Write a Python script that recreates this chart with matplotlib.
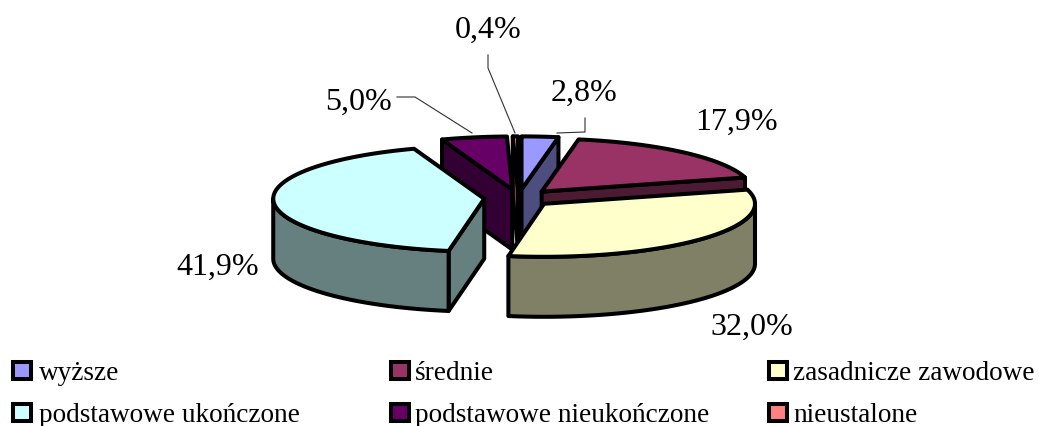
import numpy as np
import matplotlib
matplotlib.use('Agg')
import matplotlib.pyplot as plt
from matplotlib.patches import Polygon, Rectangle

categories = ['wyższe', 'średnie', 'zasadnicze zawodowe', 'podstawowe ukończone',
              'podstawowe nieukończone', 'nieustalone']
values = [2.8, 17.9, 32.0, 41.9, 5.0, 0.4]
colors = ['#9999FF', '#993366', '#FFFFCC', '#CCFFFF', '#660066', '#FF8080']
label_pos = [(551, 101), (695, 130), (710, 335), (176, 275), (325, 110), (455, 38)]
legend_pos = [(11, 360), (389, 360), (767, 360), (11, 402), (389, 402), (767, 402)]
legend_text_x = [39, 415, 793, 39, 415, 793]
draw_order = [4, 5, 0, 1, 3, 2]

# pixel geometry of the pie
cx, cy = 518.5, 198
rx, ry = 211, 53
depth = 60
explode = 0.163
lw = 2.9

plt.rcParams['font.family'] = ['Liberation Serif', 'DejaVu Serif']

fig = plt.figure(figsize=(10.39, 4.26), dpi=100)
ax = fig.add_axes([0, 0, 1, 1])
ax.set_xlim(0, 1039)
ax.set_ylim(426, 0)
ax.axis('off')


def darker(col):
    rgb = matplotlib.colors.to_rgb(col)
    return tuple(c * 0.5 for c in rgb)


def rim(x0, y0, a, b, n=60):
    t = np.radians(np.linspace(a, b, n))
    return np.column_stack([x0 + rx * np.sin(t), y0 - ry * np.cos(t)])


def face(pts, col, z):
    ax.add_patch(Polygon(pts, closed=True, facecolor=col, edgecolor='black',
                         linewidth=lw, joinstyle='round', zorder=z))


edges = np.concatenate([[0], np.cumsum(values)]) / sum(values) * 360

for z, i in enumerate(draw_order):
    a, b = edges[i], edges[i + 1]
    mid = np.radians((a + b) / 2)
    x0 = cx + explode * rx * np.sin(mid)
    y0 = cy - explode * ry * np.cos(mid)
    side = darker(colors[i])
    tip = np.array([x0, y0])
    down = np.array([0, depth])

    # radial walls, only those turned towards the viewer
    for ang, sign in [(a, -1), (b, 1)]:
        if sign * np.sin(np.radians(ang)) > 0:
            p = rim(x0, y0, ang, ang, 1)[0]
            face([tip, p, p + down, tip + down], side, z * 3)

    # outer wall
    lo, hi = max(a, 90), min(b, 270)
    if hi > lo:
        arc = rim(x0, y0, lo, hi)
        face(np.vstack([arc, arc[::-1] + down]), side, z * 3 + 1)

    # top of the slice
    face(np.vstack([[tip], rim(x0, y0, a, b)]), colors[i], z * 3 + 2)

# data labels
for v, (x, y) in zip(values, label_pos):
    ax.text(x, y, f'{v:.1f}%'.replace('.', ','), fontsize=23, color='black',
            ha='left', va='baseline', zorder=40)

# leader lines
leaders = [([585, 585, 557], [118, 132, 133]),
           ([397, 415, 472], [97, 97, 133]),
           ([488, 488, 515], [55, 68, 133])]
for xs, ys in leaders:
    ax.plot(xs, ys, color='#303030', linewidth=0.8, zorder=39)

# legend
for name, col, (x, y), tx in zip(categories, colors, legend_pos, legend_text_x):
    ax.add_patch(Rectangle((x + 2, y + 2), 18, 17, facecolor=col, edgecolor='black',
                           linewidth=2.9, zorder=40))
    ax.text(tx, y + 20, name, fontsize=19.6, color='black', ha='left', va='baseline', zorder=40)

fig.savefig('out.png', dpi=100, facecolor='white')
